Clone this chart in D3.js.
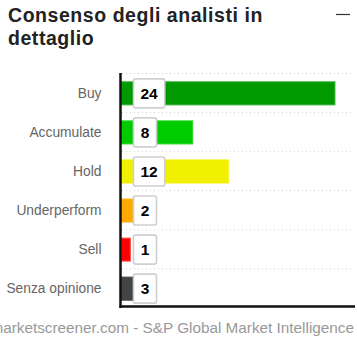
<!DOCTYPE html>
<html><head><meta charset="utf-8">
<script src="https://cdn.jsdelivr.net/npm/d3@7"></script>
<style>
html,body{margin:0;padding:0;background:#fff;}
svg{display:block;font-family:"Liberation Sans",Arial,sans-serif;}
</style></head>
<body>
<svg id="c" width="357" height="338"></svg>
<script>
const categories = ["Buy","Accumulate","Hold","Underperform","Sell","Senza opinione"];
const values = [24, 8, 12, 2, 1, 3];
const barColors = ["#009900","#00cc00","#f0f000","#ffaa00","#ff0000","#444444"];
const strokeColors = ["#33b033","#22d822","#f0f000","#ffb420","#ff5050","#444444"];
const title = ["Consenso degli analisti in","dettaglio"];
const footer = "marketscreener.com - S&P Global Market Intelligence";

const svg = d3.select("#c");
const x = d3.scaleLinear().domain([0, 26.2]).range([121, 354]);
const y = d3.scaleBand().domain(categories).range([73, 307]).paddingInner(0.41).paddingOuter(0.2);
const step = y.step();

// title
svg.selectAll("text.title").data(title).join("text")
  .attr("class","title")
  .attr("x", 8).attr("y", (d,i)=>21.5 + i*23.5)
  .attr("font-size", 19.5).attr("font-weight","bold").attr("fill","#222")
  .attr("letter-spacing", 0.55)
  .text(d=>d);
svg.append("line").attr("x1",336).attr("x2",350).attr("y1",14.5).attr("y2",14.5)
  .attr("stroke","#333").attr("stroke-width",1.2);

// gridlines at band boundaries
const bounds = d3.range(categories.length).map(i => 73 + i*step);
svg.selectAll("line.grid").data(bounds).join("line")
  .attr("class","grid")
  .attr("x1",122).attr("x2",354).attr("y1",d=>d+0.5).attr("y2",d=>d+0.5)
  .attr("stroke","#d0d0d0").attr("stroke-width",1).attr("stroke-dasharray","1,3");

// bars
svg.selectAll("rect.bar").data(categories).join("rect")
  .attr("class","bar")
  .attr("x", x(0)+0.5)
  .attr("y", d=>y(d)+1)
  .attr("width", (d,i)=>x(values[i])-x(0))
  .attr("height", y.bandwidth())
  .attr("fill", (d,i)=>barColors[i])
  .attr("stroke", (d,i)=>strokeColors[i]).attr("stroke-width",1);

// axes
const yAxis = d3.axisLeft(y).tickSize(0).tickPadding(19);
const ga = svg.append("g").attr("transform","translate(120.5,0)").call(yAxis);
ga.select(".domain").remove();
ga.selectAll("text").attr("font-size",13.8).attr("fill","#666").attr("font-family","Liberation Sans, Arial, sans-serif").attr("dy","0.4em");
svg.append("line").attr("x1",120.5).attr("x2",120.5).attr("y1",73).attr("y2",308).attr("stroke","#111").attr("stroke-width",2.5);
svg.append("line").attr("x1",119.5).attr("x2",355).attr("y1",306.5).attr("y2",306.5).attr("stroke","#111").attr("stroke-width",2.5);

// value labels
const lab = svg.selectAll("g.lab").data(categories).join("g").attr("class","lab");
lab.each(function(d,i){
  const g = d3.select(this);
  const cy = y(d) + 1 + y.bandwidth()/2;
  const t = g.append("text").attr("x",0).attr("y",cy).attr("dy","0.36em")
    .attr("font-size",15.5).attr("font-weight","bold").attr("fill","#000")
    .attr("text-anchor","middle").text(values[i]);
  const w = t.node().getComputedTextLength();
  const bw = Math.max(23, w + 14);
  g.insert("rect","text").attr("x",133.5).attr("y",cy-14.5).attr("width",bw).attr("height",29)
    .attr("rx",2).attr("fill","#fff").attr("stroke","#cfcfcf").attr("stroke-width",1.6);
  t.attr("x",133.5 + bw/2);
});

// footer
svg.append("text").attr("x",354).attr("y",333).attr("text-anchor","end")
  .attr("font-size",15.3).attr("fill","#999").text(footer);
</script>
</body></html>
